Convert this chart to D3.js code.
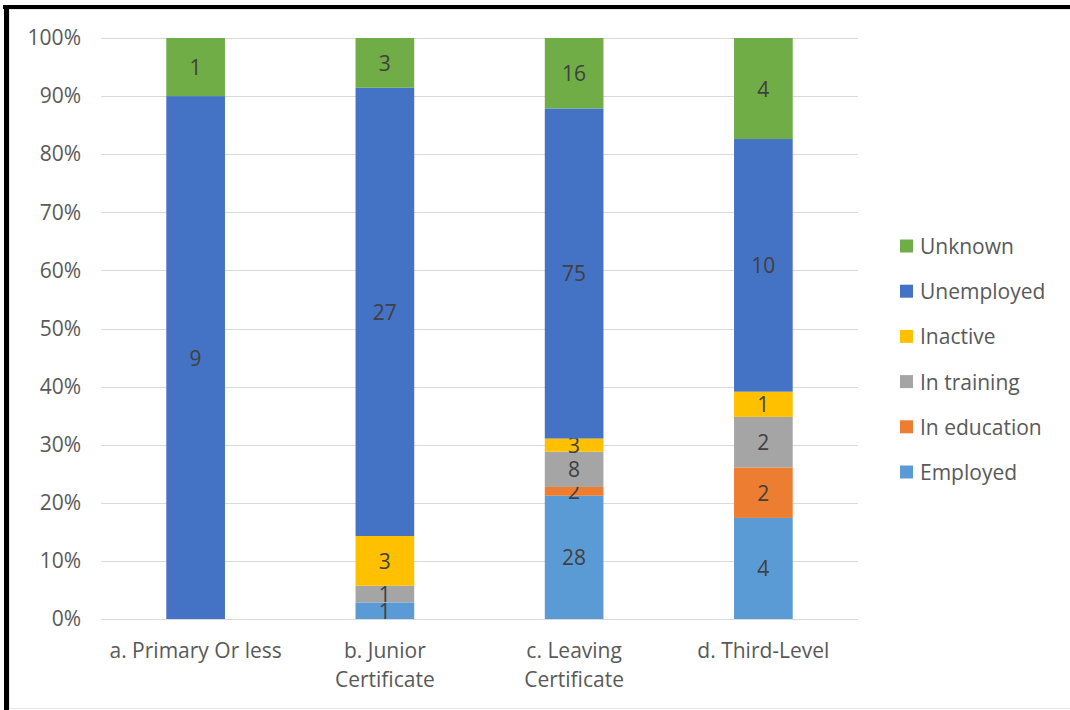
<!DOCTYPE html>
<html>
<head>
<meta charset="utf-8">
<script src="https://cdn.jsdelivr.net/npm/d3@7"></script>
<style>
    body { margin: 0; background: #fff; }
    svg { display: block; font-family: "Open Sans", sans-serif; }
</style>
</head>
<body>
<div id="chart"></div>
<script>
// Chart data
const categories = ["a. Primary Or less", "b. Junior Certificate", "c. Leaving Certificate", "d. Third-Level"];
const categoryLines = [["a. Primary Or less"], ["b. Junior", "Certificate"], ["c. Leaving", "Certificate"], ["d. Third-Level"]];
const seriesNames = ["Employed", "In education", "In training", "Inactive", "Unemployed", "Unknown"];
const employed    = [0, 1, 28, 4];
const inEducation = [0, 0, 2, 2];
const inTraining  = [0, 1, 8, 2];
const inactive    = [0, 3, 3, 1];
const unemployed  = [9, 27, 75, 10];
const unknown     = [1, 3, 16, 4];
const seriesColors = ["#5B9BD5", "#ED7D31", "#A5A5A5", "#FFC000", "#4472C4", "#70AD47"];
const yTicks = [0, 0.1, 0.2, 0.3, 0.4, 0.5, 0.6, 0.7, 0.8, 0.9, 1];

const seriesValues = [employed, inEducation, inTraining, inactive, unemployed, unknown];

// Build table for stacking
const table = categories.map((c, i) => {
    const row = { category: c };
    seriesNames.forEach((s, j) => { row[s] = seriesValues[j][i]; });
    return row;
});

const width = 1070, height = 710;
const plot = { left: 101, right: 858, top: 38, bottom: 619 };
const fontSize = "21px";

const svg = d3.select("#chart")
    .append("svg")
    .attr("width", width)
    .attr("height", height);

// Frame around the picture
svg.append("rect").attr("x", 3).attr("y", 5).attr("width", 1067).attr("height", 4).attr("fill", "#000");
svg.append("rect").attr("x", 4).attr("y", 5).attr("width", 5).attr("height", 705).attr("fill", "#000");
svg.append("line").attr("x1", 9).attr("x2", 1070).attr("y1", 9.5).attr("y2", 9.5).attr("stroke", "#e6e6e6");
svg.append("line").attr("x1", 9.5).attr("x2", 9.5).attr("y1", 9).attr("y2", 710).attr("stroke", "#e6e6e6");
svg.append("line").attr("x1", 9).attr("x2", 1070).attr("y1", 708.5).attr("y2", 708.5).attr("stroke", "#e6e6e6");

const xScale = d3.scaleBand()
    .domain(categories)
    .range([plot.left, plot.right])
    .paddingInner(0.69)
    .paddingOuter(0.345);

const yScale = d3.scaleLinear()
    .domain([0, 1])
    .range([plot.bottom, plot.top]);

// Gridlines
svg.append("g")
    .selectAll("line")
    .data(yTicks)
    .enter()
    .append("line")
    .attr("x1", plot.left)
    .attr("x2", plot.right)
    .attr("y1", (d) => Math.round(yScale(d)) + 0.5)
    .attr("y2", (d) => Math.round(yScale(d)) + 0.5)
    .attr("stroke", "#D9D9D9")
    .attr("stroke-width", 1);

// Y axis labels
const yAxisG = svg.append("g")
    .attr("transform", `translate(${plot.left - 20},0)`)
    .call(d3.axisLeft(yScale).tickValues(yTicks).tickFormat(d3.format(".0%")).tickSize(0).tickPadding(0));
yAxisG.select(".domain").remove();
yAxisG.selectAll("text")
    .style("font-family", "Open Sans, sans-serif")
    .style("font-size", fontSize)
    .attr("fill", "#595959");

// Stack
const stack = d3.stack().keys(seriesNames).offset(d3.stackOffsetExpand);
const stacked = stack(table);

const layers = svg.append("g")
    .selectAll("g")
    .data(stacked)
    .enter()
    .append("g")
    .attr("fill", (d, i) => seriesColors[i]);

layers.selectAll("rect")
    .data((d) => d)
    .enter()
    .append("rect")
    .attr("x", (d) => xScale(d.data.category))
    .attr("y", (d) => yScale(d[1]))
    .attr("width", xScale.bandwidth())
    .attr("height", (d) => yScale(d[0]) - yScale(d[1]));

// Value labels
layers.each(function (layer) {
    d3.select(this).selectAll("text")
        .data(layer.filter((d) => d.data[layer.key] > 0))
        .enter()
        .append("text")
        .attr("x", (d) => xScale(d.data.category) + xScale.bandwidth() / 2)
        .attr("y", (d) => (yScale(d[0]) + yScale(d[1])) / 2)
        .attr("text-anchor", "middle")
        .attr("dominant-baseline", "central")
        .attr("fill", "#404040")
        .style("font-size", fontSize)
        .text((d) => d.data[layer.key]);
});

// X axis labels
const xLabels = svg.append("g")
    .selectAll("text")
    .data(categories)
    .enter()
    .append("text")
    .attr("x", (d) => xScale(d) + xScale.bandwidth() / 2)
    .attr("y", 658)
    .attr("text-anchor", "middle")
    .attr("fill", "#595959")
    .style("font-size", fontSize);

xLabels.each(function (d, i) {
    const t = d3.select(this);
    categoryLines[i].forEach((line, k) => {
        t.append("tspan")
            .attr("x", xScale(d) + xScale.bandwidth() / 2)
            .attr("dy", k === 0 ? 0 : 29)
            .text(line);
    });
});

// Legend (reverse order, Unknown on top)
const legendItems = seriesNames.map((s, i) => ({ name: s, color: seriesColors[i] })).reverse();
const legend = svg.append("g")
    .selectAll("g")
    .data(legendItems)
    .enter()
    .append("g")
    .attr("transform", (d, i) => `translate(900, ${246 + i * 45.2})`);

legend.append("rect")
    .attr("x", 0)
    .attr("y", -6.5)
    .attr("width", 13)
    .attr("height", 13)
    .attr("fill", (d) => d.color);

legend.append("text")
    .attr("x", 20)
    .attr("y", 0)
    .attr("dominant-baseline", "central")
    .attr("fill", "#595959")
    .style("font-size", fontSize)
    .text((d) => d.name);
</script>
</body>
</html>
